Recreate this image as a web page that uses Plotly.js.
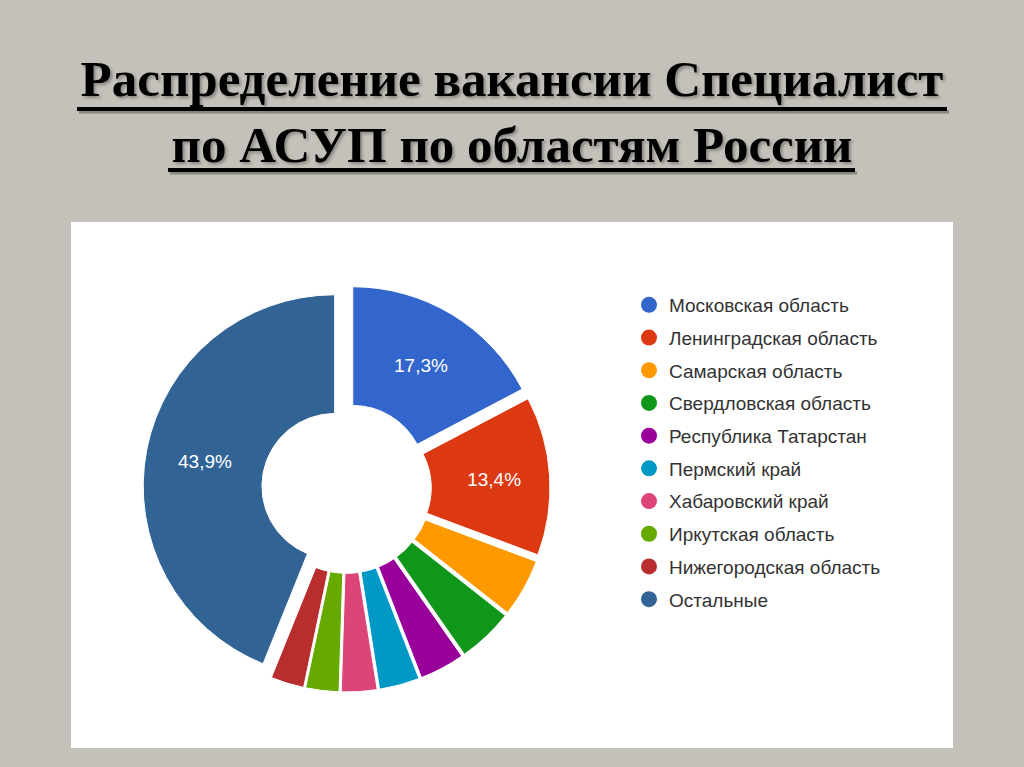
<!DOCTYPE html>
<html>
<head>
<meta charset="utf-8">
<script src="https://cdn.plot.ly/plotly-3.0.1.min.js"></script>
<style>
  html, body { margin: 0; padding: 0; background: #c4c0ba; }
  #chart { width: 1024px; height: 767px; }
</style>
</head>
<body>
<div id="chart"></div>
<script>
// ---- Data ----
const titleLine1 = 'Распределение вакансии Специалист';
const titleLine2 = 'по АСУП по областям России';

const regions = [
  'Московская область',
  'Ленинградская область',
  'Самарская область',
  'Свердловская область',
  'Республика Татарстан',
  'Пермский край',
  'Хабаровский край',
  'Иркутская область',
  'Нижегородская область',
  'Остальные'
];
const shares = [17.3, 13.4, 4.9, 4.7, 3.8, 3.4, 3.0, 2.8, 2.8, 43.9];
const colors = ['#3366cc', '#dc3912', '#ff9900', '#109618', '#990099',
                '#0099c6', '#dd4477', '#66aa00', '#b82e2e', '#316395'];
const showLabel = [true, true, false, false, false, false, false, false, false, true];

// ---- Helpers for pixel -> paper conversion ----
const W = 1024, H = 767;
const px = v => v / W;
const py = v => 1 - v / H;

const pie = {
  type: 'pie',
  labels: regions,
  values: shares,
  sort: false,
  direction: 'clockwise',
  rotation: 0,
  hole: 0.38,
  pull: 0.063,
  marker: { colors: colors, line: { color: '#ffffff', width: 1 } },
  texttemplate: showLabel.map(s => s ? '%{percent:.1%}' : ''),
  textposition: 'inside',
  insidetextorientation: 'horizontal',
  insidetextfont: { family: 'Liberation Sans, Arial, sans-serif', size: 19, color: '#ffffff' },
  showlegend: false,
  hoverinfo: 'label+percent',
  domain: { x: [px(143), px(550)], y: [py(692), py(285)] }
};

const legendTraces = regions.map((r, i) => ({
  type: 'scatter',
  mode: 'markers',
  x: [null], y: [null],
  name: r,
  legendgroup: 'g' + i,
  marker: { color: colors[i], size: 18, symbol: 'circle' },
  showlegend: true,
  hoverinfo: 'skip'
}));

const layout = {
  width: W, height: H,
  margin: { l: 0, r: 0, t: 0, b: 0 },
  paper_bgcolor: '#c4c0ba',
  plot_bgcolor: 'rgba(0,0,0,0)',
  separators: ', ',
  title: {
    text: titleLine1 + '<br>' + titleLine2,
    font: { family: 'Liberation Serif, Times New Roman, serif', size: 51, color: '#000000', weight: 'bold',
            shadow: '2px 2px 3px rgba(0,0,0,0.3)' },
    x: 0.5, xanchor: 'center',
    xref: 'paper', yref: 'container',
    y: 1 - 96 / H, yanchor: 'top'
  },
  xaxis: { visible: false, range: [0, 1] },
  yaxis: { visible: false, range: [0, 1] },
  showlegend: true,
  legend: {
    x: px(629), xanchor: 'left',
    y: py(286), yanchor: 'top',
    bgcolor: 'rgba(0,0,0,0)',
    font: { family: 'Liberation Sans, Arial, sans-serif', size: 19, color: '#333333' },
    traceorder: 'grouped',
    tracegroupgap: 5,
    itemclick: false, itemdoubleclick: false
  },
  shapes: [
    // white chart panel
    { type: 'rect', xref: 'paper', yref: 'paper', layer: 'below',
      x0: px(71), x1: px(953), y0: py(748), y1: py(222),
      fillcolor: '#ffffff', line: { width: 0 } },
    // underline shadows
    { type: 'line', xref: 'paper', yref: 'paper',
      x0: px(79), x1: px(949), y0: py(112), y1: py(112),
      line: { color: 'rgba(0,0,0,0.3)', width: 3 } },
    { type: 'line', xref: 'paper', yref: 'paper',
      x0: px(170), x1: px(857), y0: py(173), y1: py(173),
      line: { color: 'rgba(0,0,0,0.3)', width: 3 } },
    // underlines
    { type: 'line', xref: 'paper', yref: 'paper',
      x0: px(77), x1: px(947), y0: py(109), y1: py(109),
      line: { color: '#000000', width: 4 } },
    { type: 'line', xref: 'paper', yref: 'paper',
      x0: px(168), x1: px(855), y0: py(170), y1: py(170),
      line: { color: '#000000', width: 4 } }
  ]
};

Plotly.newPlot('chart', [pie].concat(legendTraces), layout, { displayModeBar: false });
</script>
</body>
</html>
